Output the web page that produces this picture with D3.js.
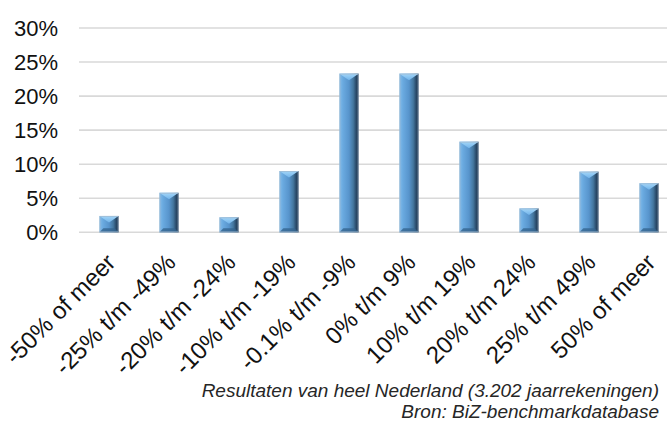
<!DOCTYPE html>
<html>
<head>
<meta charset="utf-8">
<script src="https://cdn.jsdelivr.net/npm/d3@7"></script>
<style>
  html, body { margin: 0; padding: 0; background: #fff; }
  svg { display: block; }
</style>
</head>
<body>
<svg id="chart" width="667" height="422"></svg>
<script>
// Verdeling van de resultaatontwikkeling
const categories = [
  "-50% of meer", "-25% t/m -49%", "-20% t/m -24%", "-10% t/m -19%",
  "-0.1% t/m -9%", "0% t/m 9%", "10% t/m 19%", "20% t/m 24%",
  "25% t/m 49%", "50% of meer"
];
const shares = [0.024, 0.058, 0.022, 0.090, 0.233, 0.233, 0.133, 0.035, 0.089, 0.072];
const yTicks = [0, 0.05, 0.10, 0.15, 0.20, 0.25, 0.30];
const footerLines = [
  "Resultaten van heel Nederland (3.202 jaarrekeningen)",
  "Bron: BiZ-benchmarkdatabase"
];

const svg = d3.select("#chart");
const font = "'Liberation Sans', Arial, sans-serif";

const x = d3.scaleBand().domain(categories).range([79, 679]).paddingInner(0.68).paddingOuter(0.34);
const y = d3.scaleLinear().domain([0, 0.30]).range([232.3, 28]);

// Gradients for the bevelled bars
const defs = svg.append("defs");
const bodyGrad = defs.append("linearGradient").attr("id", "barBody")
  .attr("x1", "0").attr("x2", "1").attr("y1", "0").attr("y2", "0");
[["0%", "#86bde9"], ["18%", "#6aaae0"], ["50%", "#5794cc"], ["72%", "#44779f"], ["86%", "#2b4d6d"], ["100%", "#1b3047"]]
  .forEach(([o, c]) => bodyGrad.append("stop").attr("offset", o).attr("stop-color", c));
const capGrad = defs.append("linearGradient").attr("id", "barTop")
  .attr("x1", "0").attr("x2", "0").attr("y1", "0").attr("y2", "1");
[["0%", "#a4d6f8"], ["100%", "#72b4ea"]]
  .forEach(([o, c]) => capGrad.append("stop").attr("offset", o).attr("stop-color", c));

// Gridlines
svg.append("g").selectAll("line").data(yTicks).join("line")
  .attr("x1", 79).attr("x2", 667)
  .attr("y1", d => y(d)).attr("y2", d => y(d))
  .attr("stroke", "#d9d9d9").attr("stroke-width", 1.6);

// Y axis labels
const yAxis = svg.append("g").attr("transform", "translate(58,0)")
  .call(d3.axisLeft(y).tickValues(yTicks).tickFormat(d3.format(".0%")).tickSize(0).tickPadding(0));
yAxis.select(".domain").remove();
yAxis.selectAll("text")
  .attr("font-family", font).attr("font-size", 22).attr("fill", "#111");

// Bars
const bars = svg.append("g").selectAll("g").data(shares).join("g")
  .attr("transform", (d, i) => `translate(${x(categories[i])},0)`);
const w = x.bandwidth();

bars.append("rect")
  .attr("x", 0).attr("width", w)
  .attr("y", d => y(d)).attr("height", d => y(0) - y(d))
  .attr("fill", "url(#barBody)");

// top bevel: triangle pointing down
bars.append("path")
  .attr("d", d => {
    const t = y(d), h = Math.min(6.5, (y(0) - y(d)) / 2);
    return `M0,${t}L${w},${t}L${w / 2},${t + h}Z`;
  })
  .attr("fill", "url(#barTop)");

// bottom bevel
bars.append("path")
  .attr("d", d => {
    const b = y(0), h = Math.min(4, (y(0) - y(d)) / 3);
    return `M0,${b}L${w},${b}L${w - 4},${b - h}L4,${b - h}Z`;
  })
  .attr("fill", "#35648f").attr("opacity", 0.8);

// outline
bars.append("rect")
  .attr("x", 0.5).attr("width", w - 1)
  .attr("y", d => y(d) + 0.5).attr("height", d => y(0) - y(d) - 1)
  .attr("fill", "none").attr("stroke", "#9fb8cf").attr("stroke-width", 1).attr("opacity", 0.7);

// Category labels, rotated
svg.append("g").selectAll("text").data(categories).join("text")
  .attr("transform", d => `translate(${x(d) + w / 2 + 8},264) rotate(-45)`)
  .attr("text-anchor", "end")
  .attr("font-family", font).attr("font-size", 24).attr("fill", "#111")
  .text(d => d);

// Footer
svg.append("g").selectAll("text").data(footerLines).join("text")
  .attr("x", 659).attr("y", (d, i) => 397 + i * 21)
  .attr("text-anchor", "end")
  .attr("font-family", font).attr("font-style", "italic").attr("font-size", 19)
  .attr("fill", "#262626")
  .text(d => d);
</script>
</body>
</html>
